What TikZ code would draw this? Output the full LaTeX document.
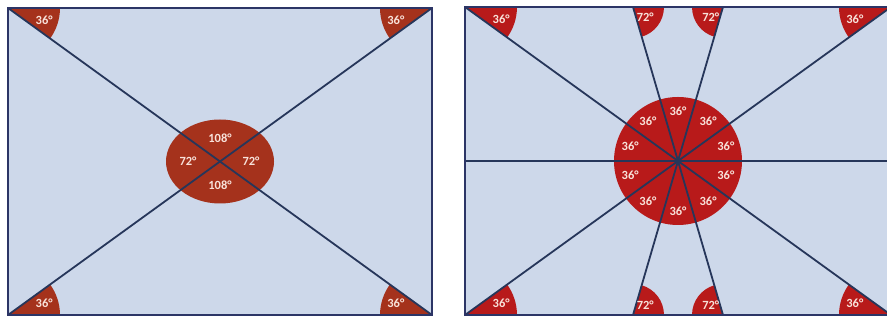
\documentclass[tikz,border=0pt]{standalone}
\usepackage{fontspec}
\setsansfont{Carlito}
\usepackage{xcolor}
\definecolor{panelblue}{HTML}{CDD8EA}
\definecolor{framenavy}{HTML}{2C3566}
\definecolor{raynavy}{HTML}{26365A}
\definecolor{rustred}{HTML}{A5321C}
\definecolor{deepred}{HTML}{B81A1A}
\definecolor{labwhite}{HTML}{F8E2DA}
\usetikzlibrary{calc}
\tikzset{
  panel/.style ={fill=panelblue},
  frame/.style ={draw=framenavy, line width=2.4pt},
  ray/.style   ={draw=raynavy, line width=1.8pt},
  lsect/.style ={fill=rustred},
  rsect/.style ={fill=deepred},
  deg/.style   ={text=labwhite, font=\sffamily\bfseries\fontsize{12.5}{12.5}\selectfont,
                 inner sep=0pt},
}

\begin{document}
\begin{tikzpicture}[x=1pt, y=1pt]
  \useasboundingbox (0,0) rectangle (887,320);
  \clip (0,0) rectangle (887,320);

  % left panel: two diagonals
  \coordinate (l-sw) at (8,5);
  \coordinate (l-se) at (432,5);
  \coordinate (l-ne) at (432,312);
  \coordinate (l-nw) at (8,312);
  \coordinate (l-c)  at (220,158.5);
  \fill[panel] (l-sw) rectangle (l-ne);
  \fill[lsect] (l-nw) -- ++(0:52)   arc[start angle=0,   end angle=-36, radius=52] -- cycle;
  \fill[lsect] (l-ne) -- ++(180:52) arc[start angle=180, end angle=216, radius=52] -- cycle;
  \fill[lsect] (l-sw) -- ++(0:52)   arc[start angle=0,   end angle=36,  radius=52] -- cycle;
  \fill[lsect] (l-se) -- ++(180:52) arc[start angle=180, end angle=144, radius=52] -- cycle;
  \fill[lsect] (l-c) ellipse[x radius=54, y radius=42];
  \draw[ray] (l-sw) -- (l-ne);
  \draw[ray] (l-nw) -- (l-se);
  \draw[frame] (l-sw) rectangle (l-ne);
  \node[deg] (l-nwdeg) at ($(l-nw)+(-18:38)$) {36°};
  \node[deg] (l-nedeg) at ($(l-ne)+(198:38)$) {36°};
  \node[deg] (l-swdeg) at ($(l-sw)+(18:38)$)  {36°};
  \node[deg] (l-sedeg) at ($(l-se)+(162:38)$) {36°};
  \node[deg] (l-top)   at ($(l-c)+(0,23)$)    {108°};
  \node[deg] (l-bot)   at ($(l-c)+(0,-24)$)   {108°};
  \node[deg] (l-lft)   at ($(l-c)+(-32,0)$)   {72°};
  \node[deg] (l-rgt)   at ($(l-c)+(31,0)$)    {72°};

  % right panel: ten rays
  \coordinate (r-sw) at (465,5);
  \coordinate (r-se) at (891,5);
  \coordinate (r-ne) at (891,313);
  \coordinate (r-nw) at (465,313);
  \coordinate (r-w)  at (465,159);
  \coordinate (r-e)  at (891,159);
  \coordinate (r-n1) at (633,313);
  \coordinate (r-n2) at (723,313);
  \coordinate (r-s1) at (633,5);
  \coordinate (r-s2) at (723,5);
  \coordinate (r-c)  at (678,159);
  \fill[panel] (r-sw) rectangle (r-ne);
  \fill[rsect] (r-nw) -- ++(0:52)   arc[start angle=0,   end angle=-36, radius=52] -- cycle;
  \fill[rsect] (r-ne) -- ++(180:52) arc[start angle=180, end angle=216, radius=52] -- cycle;
  \fill[rsect] (r-sw) -- ++(0:52)   arc[start angle=0,   end angle=36,  radius=52] -- cycle;
  \fill[rsect] (r-se) -- ++(180:52) arc[start angle=180, end angle=144, radius=52] -- cycle;
  \fill[rsect] (r-n1) -- ++(0:31)   arc[start angle=0,   end angle=-74, radius=31] -- cycle;
  \fill[rsect] (r-n2) -- ++(180:31) arc[start angle=180, end angle=254, radius=31] -- cycle;
  \fill[rsect] (r-s1) -- ++(0:31)   arc[start angle=0,   end angle=74,  radius=31] -- cycle;
  \fill[rsect] (r-s2) -- ++(180:31) arc[start angle=180, end angle=106, radius=31] -- cycle;
  \fill[rsect] (r-c) circle[radius=64];
  \draw[ray] (r-w) -- (r-e);
  \draw[ray] (r-sw) -- (r-ne);
  \draw[ray] (r-nw) -- (r-se);
  \draw[ray] (r-n1) -- (r-s2);
  \draw[ray] (r-n2) -- (r-s1);
  \fill[raynavy] (r-c) circle[radius=3];
  \draw[frame] (r-sw) rectangle (r-ne);
  \node[deg] (r-nwdeg) at ($(r-nw)+(-18:38)$) {36°};
  \node[deg] (r-nedeg) at ($(r-ne)+(198:38)$) {36°};
  \node[deg] (r-swdeg) at ($(r-sw)+(18:38)$)  {36°};
  \node[deg] (r-sedeg) at ($(r-se)+(162:38)$) {36°};
  \node[deg] (r-n1deg) at ($(r-n1)+(-40:16)$) {72°};
  \node[deg] (r-n2deg) at ($(r-n2)+(220:16)$) {72°};
  \node[deg] (r-s1deg) at ($(r-s1)+(40:16)$)  {72°};
  \node[deg] (r-s2deg) at ($(r-s2)+(140:16)$) {72°};
  \node[deg] (r-a1)  at ($(r-c)+(90:50)$)   {36°};
  \node[deg] (r-a2)  at ($(r-c)+(53:50)$)   {36°};
  \node[deg] (r-a3)  at ($(r-c)+(17:50)$)   {36°};
  \node[deg] (r-a4)  at ($(r-c)+(-17:50)$)  {36°};
  \node[deg] (r-a5)  at ($(r-c)+(-53:50)$)  {36°};
  \node[deg] (r-a6)  at ($(r-c)+(-90:50)$)  {36°};
  \node[deg] (r-a7)  at ($(r-c)+(-127:50)$) {36°};
  \node[deg] (r-a8)  at ($(r-c)+(-163:50)$) {36°};
  \node[deg] (r-a9)  at ($(r-c)+(163:50)$)  {36°};
  \node[deg] (r-a10) at ($(r-c)+(127:50)$)  {36°};
\end{tikzpicture}
\end{document}
